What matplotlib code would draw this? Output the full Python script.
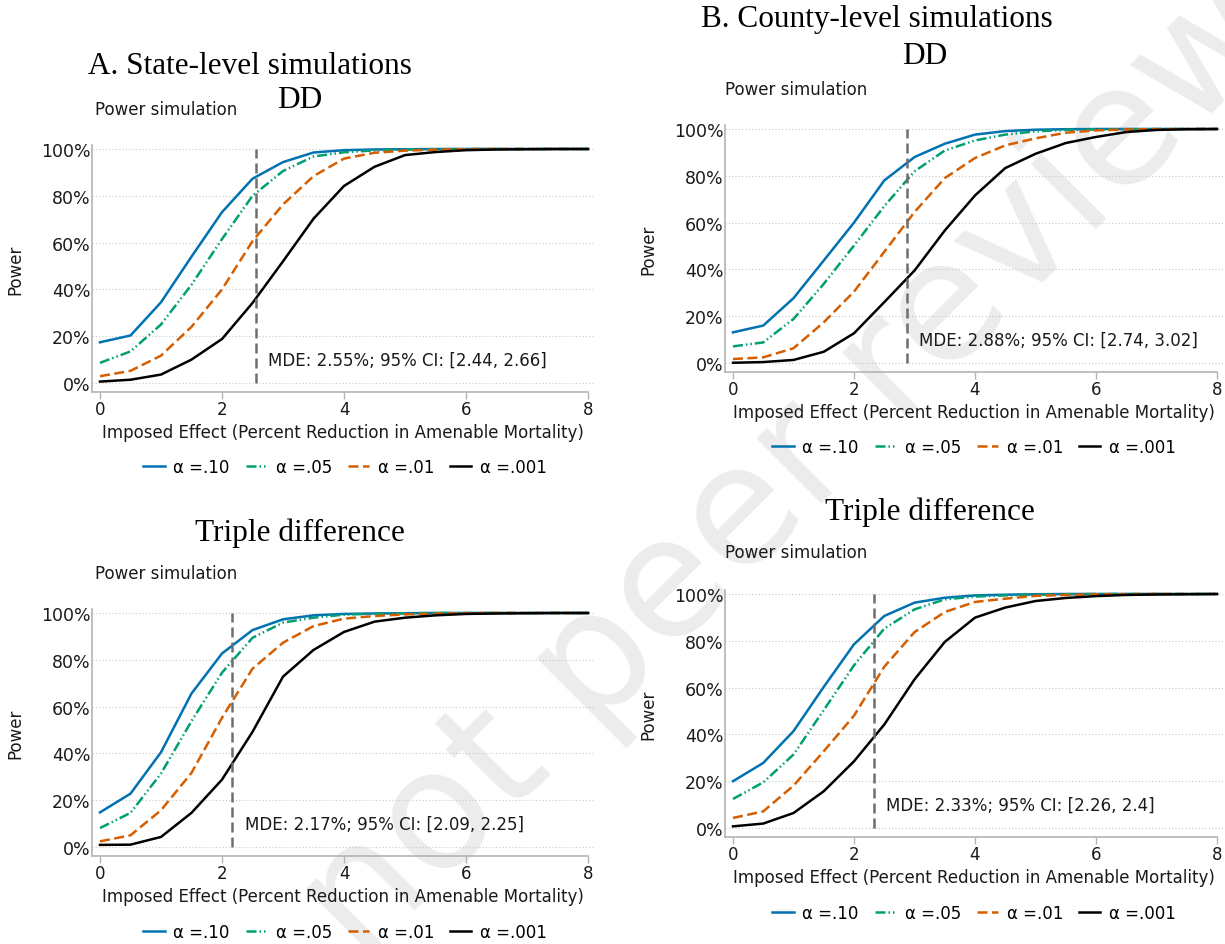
import matplotlib
matplotlib.use("Agg")
import matplotlib.pyplot as plt
import numpy as np

W, H = 1225, 945

# imposed effect grid (percent reduction)
effect = [0, 0.5, 1, 1.5, 2, 2.5, 3, 3.5, 4, 4.5, 5, 5.5, 6, 6.5, 7, 7.5, 8]
alpha_labels = ["\u03b1 =.10", "\u03b1 =.05", "\u03b1 =.01", "\u03b1 =.001"]

# A. state-level, DD
state_dd_10 = [17.4, 20.3, 34.5, 54, 73, 87.3, 94.4, 98.5, 99.5, 99.8, 99.9, 100, 100, 100, 100, 100, 100]
state_dd_05 = [8.6, 13.5, 25, 42, 61.5, 80, 90.6, 96.8, 98.6, 99.4, 99.8, 99.9, 100, 100, 100, 100, 100]
state_dd_01 = [2.9, 5.2, 11.7, 24, 40, 60.6, 76.3, 88.4, 95.9, 98.4, 99.3, 99.7, 99.9, 100, 100, 100, 100]
state_dd_001 = [0.6, 1.4, 3.6, 10, 18.8, 34.2, 52, 70.2, 84.2, 92.4, 97.4, 98.7, 99.5, 99.8, 99.9, 100, 100]

# B. county-level, DD
county_dd_10 = [13.1, 16, 27.7, 43.8, 60, 78, 88, 93.7, 97.6, 99.1, 99.7, 99.9, 100, 100, 100, 100, 100]
county_dd_05 = [7.1, 8.8, 18.8, 33.8, 50.2, 67, 81.9, 90.8, 95.1, 97.6, 99, 99.6, 99.8, 99.9, 100, 100, 100]
county_dd_01 = [1.7, 2.4, 6.3, 17.4, 30.5, 47.5, 64.5, 79, 87.6, 93, 96, 98.4, 99.4, 99.8, 99.9, 100, 100]
county_dd_001 = [0.1, 0.4, 1.3, 4.8, 12.7, 26, 39.5, 56.6, 71.6, 83.3, 89.4, 94, 96.6, 98.7, 99.6, 99.9, 100]

# A. state-level, triple difference
state_ddd_10 = [14.8, 22.8, 40.5, 65.6, 82.7, 92.7, 97.3, 99, 99.6, 99.8, 99.9, 100, 100, 100, 100, 100, 100]
state_ddd_05 = [8.1, 14.6, 31.4, 53.8, 74.5, 89.4, 95.9, 98, 99.3, 99.7, 99.9, 100, 100, 100, 100, 100, 100]
state_ddd_01 = [2.4, 5, 15.7, 31.7, 55.2, 76.2, 87.3, 94.4, 97.6, 98.7, 99.4, 99.7, 99.9, 100, 100, 100, 100]
state_ddd_001 = [0.9, 1, 4.3, 14.6, 28.8, 49.2, 72.8, 84.2, 91.9, 96.3, 98, 99, 99.6, 99.8, 99.9, 100, 100]

# B. county-level, triple difference
county_ddd_10 = [20, 27.8, 41.4, 60.3, 78.5, 90.6, 96.3, 98.4, 99.4, 99.7, 99.9, 100, 100, 100, 100, 100, 100]
county_ddd_05 = [12.4, 19.5, 31.4, 50.4, 69.5, 85.2, 93.4, 97.7, 98.9, 99.4, 99.7, 99.9, 100, 100, 100, 100, 100]
county_ddd_01 = [4.3, 7.1, 18.1, 32.8, 48, 68.9, 83.7, 92.3, 96.6, 98, 99.2, 99.6, 99.8, 99.9, 100, 100, 100]
county_ddd_001 = [0.7, 1.9, 6.4, 15.7, 28.5, 44.2, 63.5, 79.5, 89.9, 94.2, 97, 98.3, 99.1, 99.6, 99.8, 99.9, 100]

mde = [2.55, 2.88, 2.17, 2.33]
ci_low = [2.44, 2.74, 2.09, 2.26]
ci_high = [2.66, 3.02, 2.25, 2.4]

colors = ["#0072B2", "#009E73", "#D55E00", "#000000"]
styles = ["-", (0, (4, 1.2, 0.6, 1.2, 0.6, 1.2)), (0, (4, 1.8)), "-"]

XLIM = (-0.13, 8.1)
YLIM = (-3.9, 101.5)

SANS = "DejaVu Sans"
SERIF = "Liberation Serif"
FS = 12
TXT = "#1a1a1a"

fig = plt.figure(figsize=(W / 100, H / 100), dpi=100)


def px(x, y):
    return x / W, 1 - y / H


def add_panel(x0, x8, y0, y100):
    xpp = (x8 - x0) / 8
    ypp = (y0 - y100) / 100
    left = x0 + XLIM[0] * xpp
    right = x0 + XLIM[1] * xpp
    bottom = y0 - YLIM[0] * ypp
    top = y0 - YLIM[1] * ypp
    return fig.add_axes([left / W, 1 - bottom / H, (right - left) / W, (bottom - top) / H])


def draw(ax, series, k, legend_pos):
    ax.set_facecolor("none")
    for vals, c, ls, lab in zip(series, colors, styles, alpha_labels):
        ax.plot(effect, vals, color=c, linestyle=ls, lw=1.8, label=lab, zorder=3)
    ax.plot([mde[k], mde[k]], [0, 100], color="#6e6e6e", lw=1.8,
            linestyle=(0, (4, 2)), zorder=4)
    ax.text(mde[k] + 0.2, 10, "MDE: %s%%; 95%% CI: [%s, %s]" % (mde[k], ci_low[k], ci_high[k]),
            fontsize=FS, family=SANS, va="center", ha="left", color=TXT)
    ax.set_xlim(*XLIM)
    ax.set_ylim(*YLIM)
    ax.set_xticks([0, 2, 4, 6, 8])
    ax.set_yticks([0, 20, 40, 60, 80, 100])
    ax.set_yticklabels(["%d%%" % v for v in [0, 20, 40, 60, 80, 100]])
    ax.grid(axis="y", color="#c8c8c8", linestyle=(0, (1, 2)), lw=0.8)
    ax.set_axisbelow(True)
    for s in ["top", "right"]:
        ax.spines[s].set_visible(False)
    for s in ["left", "bottom"]:
        ax.spines[s].set_color("#b4b4b4")
        ax.spines[s].set_linewidth(1.2)
    ax.spines["bottom"].set_bounds(XLIM[0], 8)
    ax.tick_params(axis="x", length=5, width=1, color="#b4b4b4", labelsize=FS, pad=1, labelcolor=TXT)
    ax.tick_params(axis="y", length=0, labelsize=12.5, pad=1, labelcolor=TXT)
    ax.set_xlabel("Imposed Effect (Percent Reduction in Amenable Mortality)", fontsize=FS,
                  family=SANS, labelpad=3, color=TXT)
    ax.set_ylabel("Power", fontsize=FS, family=SANS, labelpad=12, color=TXT)
    ax.legend(loc="center", bbox_to_anchor=legend_pos, bbox_transform=fig.transFigure,
              ncol=4, frameon=False, fontsize=FS, handlelength=1.3, handletextpad=0.5,
              columnspacing=0.95)


panels = [
    (100, 588, 384, 150, [state_dd_10, state_dd_05, state_dd_01, state_dd_001], (345, 468)),
    (733, 1217, 364, 130, [county_dd_10, county_dd_05, county_dd_01, county_dd_001], (974, 448)),
    (100, 588, 848, 614, [state_ddd_10, state_ddd_05, state_ddd_01, state_ddd_001], (345, 933)),
    (733, 1217, 829, 595, [county_ddd_10, county_ddd_05, county_ddd_01, county_ddd_001], (974, 914)),
]
for k, (x0, x8, y0, y100, series, leg) in enumerate(panels):
    ax = add_panel(x0, x8, y0, y100)
    draw(ax, series, k, px(*leg))

# headings
heads = [
    ("A. State-level simulations", 250, 66),
    ("DD", 300, 101),
    ("Triple difference", 300, 533),
    ("B. County-level simulations", 877, 20),
    ("DD", 925, 57),
    ("Triple difference", 930, 512),
]
for t, x, y in heads:
    fig.text(*px(x, y), t, family=SERIF, fontsize=22.5, ha="center", va="center")
for (x, y) in [(95, 110), (95, 574), (725, 90), (725, 553)]:
    fig.text(*px(x, y), "Power simulation", family=SANS, fontsize=FS, ha="left", va="center",
             color=TXT)

# watermark behind everything
fig.text(*px(865, 395), "not peer reviewed", family=SANS, fontsize=120, rotation=45,
         ha="center", va="center", color="#ececec", zorder=-5, rotation_mode="anchor")

fig.savefig("out.png", dpi=100, facecolor="white")
